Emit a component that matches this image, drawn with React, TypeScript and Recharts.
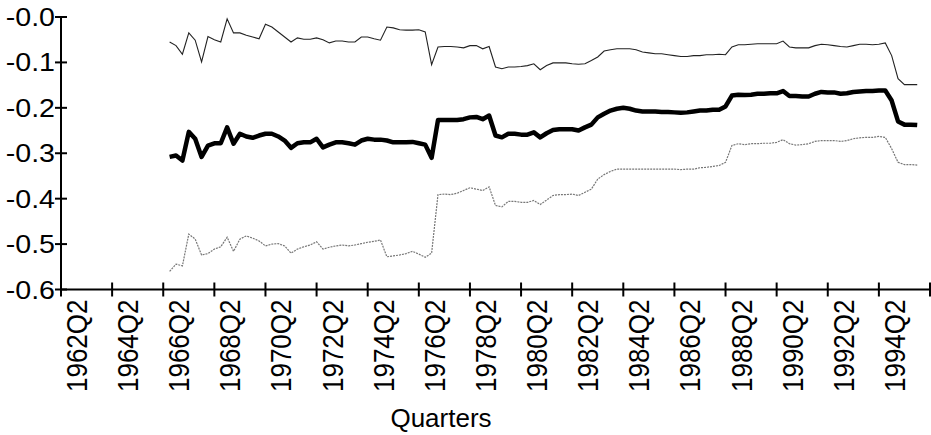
import React from 'react';
import { LineChart, Line, XAxis, YAxis } from 'recharts';

// quarter index 0 = 1962Q2; series start at 1966Q3 (index 17)
const START_Q = 17;

const xTickLabels = [
  '1962Q2', '1964Q2', '1966Q2', '1968Q2', '1970Q2', '1972Q2', '1974Q2', '1976Q2', '1978Q2',
  '1980Q2', '1982Q2', '1984Q2', '1986Q2', '1988Q2', '1990Q2', '1992Q2', '1994Q2', '',
];
const xTicks = [0, 8, 16, 24, 32, 40, 48, 56, 64, 72, 80, 88, 96, 104, 112, 120, 128, 136];

const yTicks = [-0.6, -0.5, -0.4, -0.3, -0.2, -0.1, 0];
const yTickLabels = ['-0.6', '-0.5', '-0.4', '-0.3', '-0.2', '-0.1', '-0.0'];

const estimate = [
  -0.308, -0.305, -0.316, -0.253, -0.268, -0.308, -0.283, -0.278, -0.278, -0.243, -0.279, -0.257,
  -0.263, -0.266, -0.261, -0.257, -0.257, -0.263, -0.272, -0.288, -0.278, -0.276, -0.276, -0.268,
  -0.287, -0.281, -0.276, -0.276, -0.278, -0.281, -0.272, -0.268, -0.270, -0.270,
  -0.272, -0.276, -0.276, -0.276, -0.275, -0.278, -0.281, -0.310,
  -0.227, -0.227, -0.227, -0.227, -0.225, -0.221, -0.220, -0.225, -0.217,
  -0.261, -0.265, -0.257, -0.257, -0.259, -0.259, -0.254, -0.265, -0.256, -0.249,
  -0.247, -0.247, -0.247, -0.250, -0.243, -0.237, -0.221, -0.213, -0.206, -0.202,
  -0.200, -0.202, -0.206, -0.208, -0.208, -0.208, -0.209, -0.209, -0.210, -0.211, -0.210, -0.208,
  -0.206, -0.206, -0.204, -0.204, -0.197,
  -0.173, -0.171, -0.172, -0.171, -0.169, -0.169, -0.168, -0.168, -0.163, -0.174, -0.174, -0.175,
  -0.175, -0.169, -0.165, -0.166, -0.166, -0.169, -0.168, -0.165, -0.164, -0.163, -0.163, -0.162,
  -0.162,
  -0.184, -0.230, -0.237, -0.237, -0.238,
];

const upperBand = [
  -0.055, -0.063, -0.082, -0.035, -0.051, -0.099, -0.043, -0.050, -0.055, -0.004, -0.035, -0.035,
  -0.040, -0.044, -0.048, -0.016, -0.022, -0.033, -0.044, -0.055, -0.046, -0.049, -0.049, -0.046,
  -0.050, -0.057, -0.053, -0.053, -0.055, -0.055, -0.044, -0.044, -0.048, -0.051,
  -0.022, -0.024, -0.028, -0.029, -0.029, -0.028, -0.033, -0.105,
  -0.066, -0.065, -0.065, -0.066, -0.068, -0.063, -0.063, -0.070, -0.065,
  -0.110, -0.114, -0.110, -0.110, -0.109, -0.107, -0.103, -0.116, -0.107, -0.101,
  -0.101, -0.101, -0.103, -0.104, -0.103, -0.096, -0.088, -0.075, -0.072, -0.070,
  -0.070, -0.070, -0.072, -0.077, -0.079, -0.081, -0.081, -0.083, -0.085, -0.087, -0.087, -0.085,
  -0.085, -0.083, -0.083, -0.082, -0.083,
  -0.066, -0.061, -0.061, -0.060, -0.059, -0.059, -0.059, -0.059, -0.053, -0.066, -0.068, -0.068,
  -0.068, -0.063, -0.060, -0.061, -0.063, -0.065, -0.066, -0.063, -0.060, -0.060, -0.061, -0.060,
  -0.057,
  -0.085, -0.136, -0.149, -0.149, -0.149,
];

const lowerBand = [
  -0.560, -0.544, -0.548, -0.478, -0.489, -0.524, -0.521, -0.511, -0.506, -0.485, -0.516, -0.489,
  -0.482, -0.487, -0.493, -0.504, -0.500, -0.499, -0.504, -0.520, -0.511, -0.506, -0.502, -0.495,
  -0.511, -0.507, -0.504, -0.502, -0.504, -0.502, -0.499, -0.496, -0.494, -0.491,
  -0.528, -0.526, -0.524, -0.521, -0.516, -0.522, -0.529, -0.520,
  -0.391, -0.390, -0.391, -0.388, -0.382, -0.376, -0.379, -0.382, -0.374,
  -0.415, -0.418, -0.406, -0.406, -0.408, -0.408, -0.404, -0.413, -0.403, -0.393,
  -0.391, -0.391, -0.390, -0.393, -0.386, -0.379, -0.357, -0.347, -0.340, -0.335,
  -0.335, -0.335, -0.335, -0.335, -0.335, -0.335, -0.335, -0.335, -0.335, -0.336, -0.335, -0.335,
  -0.332, -0.331, -0.329, -0.327, -0.320,
  -0.283, -0.279, -0.281, -0.279, -0.279, -0.278, -0.278, -0.276, -0.270, -0.279, -0.282, -0.281,
  -0.279, -0.274, -0.272, -0.272, -0.272, -0.274, -0.272, -0.268, -0.266, -0.265, -0.265, -0.263,
  -0.265,
  -0.290, -0.320, -0.325, -0.325, -0.326,
];

const W = 931;
const H = 435;
const TOP = 17;
const Y_AXIS_W = 61;
const X_AXIS_H = 145.5;
const AXIS_Y = H - X_AXIS_H;
const FONT = '"Liberation Sans", Arial, Helvetica, sans-serif';

const data = estimate.map((v, i) => ({
  q: START_Q + i,
  mid: v,
  upper: upperBand[i],
  lower: lowerBand[i],
}));

// the scanned labels are a bit wider than plain Arial, hence the small stretch
function XTick(props: any) {
  const { x, index } = props;
  const label = xTickLabels[index] ?? '';
  return (
    <g>
      <line x1={x} x2={x} y1={AXIS_Y - 7} y2={AXIS_Y + 7} stroke="#000" strokeWidth={2} />
      {label && (
        <text
          transform={`translate(${x + 26},${AXIS_Y + 10}) rotate(-90) scale(1,1.12)`}
          textAnchor="end"
          fontSize={26}
          fontFamily={FONT}
          fill="#000"
        >
          {label}
        </text>
      )}
    </g>
  );
}

function YTick(props: any) {
  const { y, index } = props;
  return (
    <g>
      <line x1={Y_AXIS_W - 6} x2={Y_AXIS_W + 6} y1={y} y2={y} stroke="#000" strokeWidth={2} />
      <text
        transform={`translate(${Y_AXIS_W - 6},${y + 9}) scale(1.1,1)`}
        textAnchor="end"
        fontSize={26}
        fontFamily={FONT}
        fill="#000"
      >
        {yTickLabels[index]}
      </text>
    </g>
  );
}

export default function App() {
  return (
    <div style={{ position: 'absolute', left: 0, top: 0, width: W, height: H, background: '#fff' }}>
      <LineChart width={W} height={H} data={data} margin={{ top: TOP, right: 1, bottom: 0, left: 0 }}>
        <XAxis
          dataKey="q"
          type="number"
          domain={[0, 136]}
          ticks={xTicks}
          interval={0}
          tick={<XTick />}
          tickLine={false}
          axisLine={{ stroke: '#000', strokeWidth: 2 }}
          height={X_AXIS_H}
          label={{
            content: () => (
              <text x={441} y={427} textAnchor="middle" fontSize={26} fontFamily={FONT} fill="#000">
                Quarters
              </text>
            ),
          }}
        />
        <YAxis
          type="number"
          domain={[-0.6, 0]}
          ticks={yTicks}
          interval={0}
          tick={<YTick />}
          tickLine={false}
          axisLine={{ stroke: '#000', strokeWidth: 2 }}
          width={Y_AXIS_W}
        />
        <Line
          type="linear"
          dataKey="upper"
          stroke="#222"
          strokeWidth={1.1}
          dot={false}
          isAnimationActive={false}
        />
        <Line
          type="linear"
          dataKey="lower"
          stroke="#777"
          strokeWidth={1.2}
          strokeDasharray="2 1"
          dot={false}
          isAnimationActive={false}
        />
        <Line
          type="linear"
          dataKey="mid"
          stroke="#000"
          strokeWidth={4.5}
          strokeLinejoin="round"
          dot={false}
          isAnimationActive={false}
        />
      </LineChart>
    </div>
  );
}
